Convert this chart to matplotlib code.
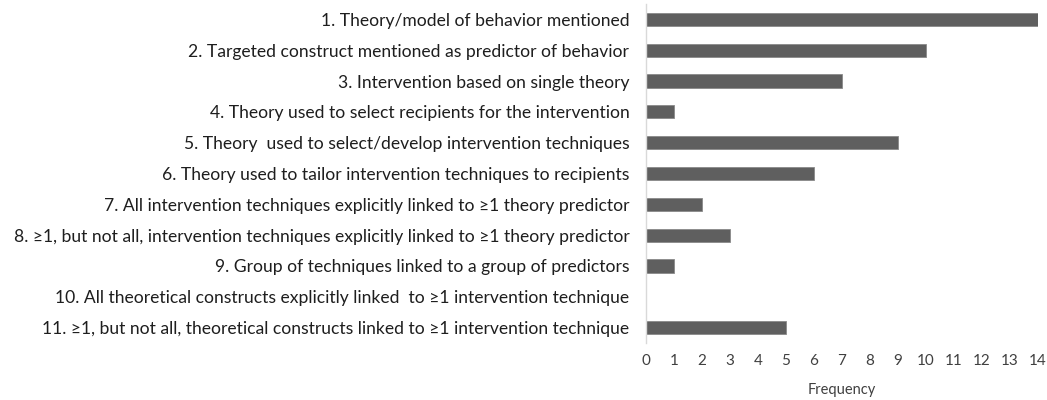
import matplotlib
matplotlib.use("Agg")
import matplotlib.pyplot as plt

categories = [
    "1. Theory/model of behavior mentioned",
    "2. Targeted construct mentioned as predictor of behavior",
    "3. Intervention based on single theory",
    "4. Theory used to select recipients for the intervention",
    "5. Theory  used to select/develop intervention techniques",
    "6. Theory used to tailor intervention techniques to recipients",
    "7. All intervention techniques explicitly linked to \u22651 theory predictor",
    "8. \u22651, but not all, intervention techniques explicitly linked to \u22651 theory predictor",
    "9. Group of techniques linked to a group of predictors",
    "10. All theoretical constructs explicitly linked  to \u22651 intervention technique",
    "11. \u22651, but not all, theoretical constructs linked to \u22651 intervention technique",
]
values = [14, 10, 7, 1, 9, 6, 2, 3, 1, 0, 5]
xticks = list(range(0, 15))

plt.rcParams['font.family'] = ['Lato', 'DejaVu Sans']

fig = plt.figure(figsize=(10.47, 4.0), dpi=100)
ax = fig.add_axes([0.617, 0.1425, 0.374, 0.8475])
y = list(range(len(categories)))
ax.barh(y, values, height=0.43, color="#5f5f5f", edgecolor="#8a8a8a", linewidth=0.6)
ax.set_yticks(y)
ax.set_yticklabels(categories, fontsize=12.6, color="#1e1e1e")
ax.set_ylim(len(categories) - 0.5, -0.5)
ax.set_xlim(0, 14)
ax.set_xticks(xticks)
ax.set_xticklabels([str(t) for t in xticks], fontsize=11, color="#404040")
ax.set_xlabel("Frequency", fontsize=10.5, color="#404040", labelpad=11)
ax.tick_params(axis='y', length=0, pad=12)
ax.tick_params(axis='x', length=0, pad=8)
for s in ["top", "right", "bottom"]:
    ax.spines[s].set_visible(False)
ax.spines["left"].set_color("#d9d9d9")
ax.spines["left"].set_linewidth(1.0)

fig.savefig("out.png", dpi=100)
